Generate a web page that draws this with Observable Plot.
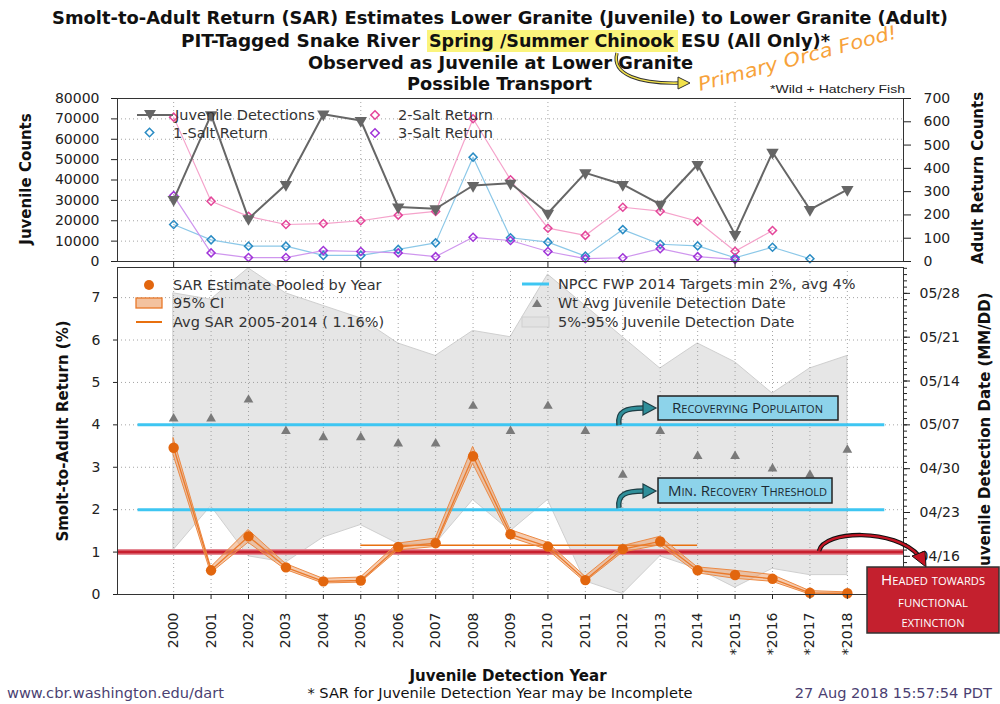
<!DOCTYPE html>
<html><head><meta charset="utf-8">
<script src="https://cdn.jsdelivr.net/npm/d3@7"></script>
<script src="https://cdn.jsdelivr.net/npm/@observablehq/plot@0.6"></script>
<style>
body{margin:0;background:#fff;}
#root{position:relative;width:1000px;height:704px;overflow:hidden;font-family:"DejaVu Sans",sans-serif;}
</style></head><body><div id="root"></div>
<script>
// ---------- data ----------
const years = d3.range(2000, 2019);
const yearLabels = years.map(y => (y >= 2015 ? "*" : "") + y);
const juvenileDetections = [30400, 72000, 21000, 37800, 72300, 69200, 26700, 25900, 37300, 38400, 23700, 43500, 37800, 28000, 47600, 13200, 53600, 25500, 35300];
const salt1Return = [159, 93, 66, 66, 26, 26, 52, 80, 448, 102, 83, 23, 137, 74, 67, 16, 61, 12, null];
const salt2Return = [620, 259, 194, 159, 163, 175, 199, 215, 613, 351, 143, 112, 233, 216, 173, 44, 133, null, null];
const salt3Return = [283, 37, 17, 17, 47, 43, 37, 21, 104, 90, 43, 12, 16, 55, 21, 9, null, null, null];
const sarEstimate = [3.46, 0.57, 1.37, 0.64, 0.31, 0.33, 1.12, 1.21, 3.26, 1.42, 1.13, 0.34, 1.07, 1.25, 0.57, 0.46, 0.37, 0.04, 0.03];
const sarLow  = [3.28, 0.50, 1.22, 0.58, 0.26, 0.28, 1.04, 1.12, 3.08, 1.34, 1.05, 0.29, 0.99, 1.16, 0.50, 0.37, 0.30, 0.00, 0.00];
const sarHigh = [3.68, 0.64, 1.52, 0.72, 0.37, 0.40, 1.20, 1.32, 3.48, 1.52, 1.22, 0.42, 1.14, 1.36, 0.64, 0.56, 0.46, 0.08, 0.05];
const wtAvgDate = ["05/08","05/08","05/11","05/06","05/05","05/05","05/04","05/04","05/10","05/06","05/10","05/06","04/29","05/06","05/02","05/02","04/30","04/29","05/03"];
const date05 = ["04/17","04/24","04/16","04/15","04/19","04/21","04/18","04/18","04/25","04/20","04/25","04/12","04/10","04/16","04/14","04/11","04/14","04/13","04/13"];
const date95 = ["05/28","05/27","06/01","05/28","05/26","05/24","05/20","05/18","05/22","05/21","05/31","05/26","05/21","05/16","05/20","05/17","05/12","05/16","05/18"];
const avgSAR = 1.16, avgFrom = 2005, avgTo = 2014;
const npccTargets = [2, 4];
const extinctionLevel = 1.0;
const dateTicks = ["04/16","04/23","04/30","05/07","05/14","05/21","05/28"];
const countTicks = d3.range(0, 80001, 10000);
const adultTicks = d3.range(0, 701, 100);
const sarTicks = d3.range(0, 8);

// secondary scales mapping
const K = 80000 / 700;
const REF = Date.UTC(2018, 3, 16), Y_REF = 0.9, Y_PER_DAY = 3.1 / 21;
function dateToY(s){const [m,d]=s.split("/").map(Number);return Y_REF + Y_PER_DAY*((Date.UTC(2018,m-1,d)-REF)/864e5);}
function yToDate(y){const days=Math.round((y-Y_REF)/Y_PER_DAY);const dt=new Date(REF+days*864e5);return String(dt.getUTCMonth()+1).padStart(2,"0")+"/"+String(dt.getUTCDate()).padStart(2,"0");}
const minorDays = d3.range(-6, 47).map(k => Y_REF + k*Y_PER_DAY);

const rows = years.map((yr,i)=>({yr, juv:juvenileDetections[i], s1:salt1Return[i], s2:salt2Return[i], s3:salt3Return[i],
  sar:sarEstimate[i], lo:sarLow[i], hi:sarHigh[i], wt:dateToY(wtAvgDate[i]), d05:dateToY(date05[i]), d95:dateToY(date95[i])}));

const root = document.getElementById("root");
const grid = {stroke:"#9a9a9a", strokeOpacity:0.9, strokeDasharray:"1,3"};
const baseStyle = {background:"transparent", overflow:"visible", fontFamily:"DejaVu Sans, sans-serif", fontSize:"14px", color:"#222"};

// ---------- top panel ----------
const saltSeries = [["s1","#2b8cc4","#8cc8e8"],["s2","#e4469a","#f5a3cb"],["s3","#a035d8","#cf96ee"]];
const topPlot = Plot.plot({
  width:1000, height:180, marginTop:10, marginBottom:7, marginLeft:117, marginRight:97,
  x:{domain:[1998.5, 2019.5]}, y:{domain:[0, 80000]},
  style: baseStyle,
  marks:[
    Plot.gridY(countTicks.slice(1), grid),
    Plot.gridX([2000,2005,2010,2015], grid),
    ...saltSeries.map(([k,c,lc]) => Plot.line(rows.filter(d=>d[k]!=null), {x:"yr", y:d=>d[k]*K, stroke:lc, strokeWidth:1.2})),
    ...saltSeries.map(([k,c]) => Plot.dot(rows.filter(d=>d[k]!=null), {x:"yr", y:d=>d[k]*K, symbol:"square", rotate:45, r:3.2, stroke:c, strokeWidth:1.5, fill:"white", fillOpacity:0})),
    Plot.line(rows, {x:"yr", y:"juv", stroke:"#666", strokeWidth:2}),
    Plot.dot(rows, {x:"yr", y:"juv", symbol:"triangle", rotate:180, r:4.6, fill:"#666", stroke:"none"}),
    Plot.frame({stroke:"#333"}),
    Plot.axisY(countTicks, {anchor:"left", tickSize:6, tickPadding:12, label:null, tickFormat:d=>String(d)}),
    Plot.axisY(adultTicks.map(v=>v*K), {anchor:"right", tickSize:7, tickPadding:13, label:null, tickFormat:d=>String(Math.round(d/K))}),
    Plot.axisX([2000,2005,2010,2015], {anchor:"bottom", tickSize:6, tickFormat:()=>"", label:null})
  ]
});
topPlot.style.position="absolute"; topPlot.style.left="0px"; topPlot.style.top="88px";
root.appendChild(topPlot);

// ---------- bottom panel ----------
const botPlot = Plot.plot({
  width:1000, height:420, marginTop:5, marginBottom:88, marginLeft:117, marginRight:97,
  x:{domain:[1998.5, 2019.5]}, y:{domain:[0, 7.71]},
  style: baseStyle,
  marks:[
    Plot.areaY(rows, {x:"yr", y1:"d05", y2:"d95", fill:"#e6e6e6", stroke:"#cfcfcf", strokeWidth:1}),
    Plot.gridY(sarTicks.slice(1), grid),
    Plot.gridX(years, grid),
    Plot.ruleY(npccTargets, {x1:1999.05, x2:2019, stroke:"#3ec6f2", strokeWidth:3}),
    Plot.ruleY([extinctionLevel], {stroke:"#e58a95", strokeWidth:6}),
    Plot.ruleY([extinctionLevel], {stroke:"#c8202f", strokeWidth:3}),
    Plot.ruleY([avgSAR], {x1:avgFrom, x2:avgTo, stroke:"#e8700f", strokeWidth:1.6}),
    Plot.areaY(rows, {x:"yr", y1:"lo", y2:"hi", fill:"#eb9a62", fillOpacity:0.5, stroke:"#ec8a45", strokeWidth:1}),
    Plot.line(rows, {x:"yr", y:"sar", stroke:"#ea7a2c", strokeWidth:1.3}),
    Plot.dot(rows, {x:"yr", y:"sar", r:5.2, fill:"#e2660e", stroke:"none"}),
    Plot.dot(rows, {x:"yr", y:"wt", symbol:"triangle", r:3.6, fill:"#7a7a7a", stroke:"none"}),
    Plot.frame({stroke:"#333"}),
    Plot.axisY(sarTicks, {anchor:"left", tickSize:4, tickPadding:13, label:null}),
    Plot.axisY(dateTicks.map(dateToY), {anchor:"right", tickSize:6, tickPadding:10, label:null, tickFormat:d=>yToDate(d)}),
    Plot.axisY(minorDays, {anchor:"right", tickSize:3, label:null, tickFormat:()=>""}),
    Plot.axisX(years, {anchor:"bottom", tickSize:5, tickPadding:13, tickRotate:-90, label:null, tickFormat:d=>yearLabels[years.indexOf(d)]})
  ]
});
botPlot.style.position="absolute"; botPlot.style.left="0px"; botPlot.style.top="262px";
root.appendChild(botPlot);

// ---------- titles, legends, annotations ----------
const titleFont = "font-family=\"'Liberation Sans Narrow','DejaVu Sans Condensed','Liberation Sans',sans-serif\" font-weight=\"bold\" font-size=\"17\" fill=\"#111\" lengthAdjust=\"spacingAndGlyphs\"";
const scFont = "font-family=\"'Open Sans','DejaVu Sans',sans-serif\" font-variant=\"small-caps\" lengthAdjust=\"spacingAndGlyphs\"";
const ov = `
<svg xmlns="http://www.w3.org/2000/svg" width="1000" height="704" style="position:absolute;left:0;top:0;overflow:visible" font-family="DejaVu Sans, sans-serif">
 <rect x="427" y="30" width="251" height="22" fill="#fbf47c"/>
 <text x="52" y="24" textLength="896" ${titleFont}>Smolt-to-Adult Return (SAR) Estimates Lower Granite (Juvenile) to Lower Granite (Adult)</text>
 <text x="181" y="47" textLength="239" ${titleFont}>PIT-Tagged Snake River</text>
 <text x="429" y="47" textLength="245" ${titleFont}>Spring /Summer Chinook</text>
 <text x="681" y="47" textLength="149" ${titleFont}>ESU (All Only)*</text>
 <text x="308" y="68.5" textLength="385" ${titleFont}>Observed as Juvenile at Lower Granite</text>
 <text x="407" y="90" textLength="185" ${titleFont}>Possible Transport</text>
 <path d="M617,53 C611,75 640,84 680,83" fill="none" stroke="#333" stroke-width="3.4"/>
 <path d="M617,53 C611,75 640,84 680,83" fill="none" stroke="#f2e24a" stroke-width="1.6"/>
 <polygon points="678,77 690,83 678,89" fill="#f2e24a" stroke="#333" stroke-width="1"/>
 <text transform="translate(700,91) rotate(-15)" font-family="'DejaVu Sans',sans-serif" font-style="italic" font-size="19" fill="#f7a23a" textLength="205" lengthAdjust="spacingAndGlyphs">Primary Orca Food!</text>
 <text x="770" y="93" font-family="'Liberation Sans Narrow','Liberation Sans',sans-serif" font-size="11" fill="#222" textLength="135" lengthAdjust="spacingAndGlyphs">*Wild + Hatchery Fish</text>

 <g font-weight="bold" font-size="15" fill="#111" text-anchor="middle">
  <text transform="translate(31,179) rotate(-90)">Juvenile Counts</text>
  <text transform="translate(983,178) rotate(-90)">Adult Return Counts</text>
  <text transform="translate(68,431) rotate(-90)">Smolt-to-Adult Return (%)</text>
  <text transform="translate(990,432) rotate(-90)">Juvenile Detection Date (MM/DD)</text>
  <text x="508" y="681">Juvenile Detection Year</text>
 </g>

 <g font-size="14.5" fill="#333">
  <line x1="137" x2="173" y1="115" y2="115" stroke="#666" stroke-width="2"/>
  <polygon points="144,110 156,110 150,120" fill="#666"/>
  <text x="175" y="120">Juvenile Detections</text>
  <rect x="146.5" y="129.5" width="6" height="6" transform="rotate(45 149.5 132.5)" fill="none" stroke="#2b8cc4" stroke-width="1.5"/>
  <text x="173" y="138">1-Salt Return</text>
  <rect x="372" y="112" width="6" height="6" transform="rotate(45 375 115)" fill="none" stroke="#e4469a" stroke-width="1.5"/>
  <text x="398" y="120">2-Salt Return</text>
  <rect x="372" y="130" width="6" height="6" transform="rotate(45 375 133)" fill="none" stroke="#a035d8" stroke-width="1.5"/>
  <text x="398" y="138">3-Salt Return</text>

  <circle cx="149" cy="285" r="5" fill="#e2660e"/>
  <text x="173" y="290">SAR Estimate Pooled by Year</text>
  <rect x="136" y="298" width="26" height="10" fill="#f3c29f" stroke="#e8782a" stroke-width="1.3"/>
  <text x="173" y="308">95% CI</text>
  <line x1="136" x2="162" y1="322" y2="322" stroke="#e8700f" stroke-width="2"/>
  <text x="173" y="327">Avg SAR 2005-2014 ( 1.16%)</text>
  <line x1="522" x2="549" y1="284" y2="284" stroke="#3ec6f2" stroke-width="3"/>
  <text x="558" y="289">NPCC FWP 2014 Targets min 2%, avg 4%</text>
  <polygon points="532,307 542,307 537,299" fill="#7a7a7a"/>
  <text x="558" y="308">Wt Avg Juvenile Detection Date</text>
  <rect x="522" y="317" width="27" height="10" fill="#e2e2e2" stroke="#cfcfcf"/>
  <text x="558" y="327">5%-95% Juvenile Detection Date</text>
 </g>

 <rect x="658" y="396" width="180" height="24" fill="#8dd3ea" stroke="#222" stroke-width="1.5"/>
 <text x="672" y="413" font-size="15" fill="#1c2a33" textLength="151" ${scFont}>Recoverying Populaiton</text>
 <rect x="658" y="478" width="174" height="25" fill="#8dd3ea" stroke="#222" stroke-width="1.5"/>
 <text x="668" y="496" font-size="15" fill="#1c2a33" textLength="159" ${scFont}>Min. Recovery Threshold</text>
 <g>
  <path d="M619,425 C617,411 626,408 644,408" fill="none" stroke="#1d3d44" stroke-width="5.5"/>
  <path d="M619,425 C617,411 626,408 644,408" fill="none" stroke="#2f8f9a" stroke-width="3"/>
  <polygon points="643,401 656,408 643,415" fill="#2f8f9a" stroke="#1d3d44" stroke-width="1.2"/>
  <path d="M619,508 C617,494 626,491 644,491" fill="none" stroke="#1d3d44" stroke-width="5.5"/>
  <path d="M619,508 C617,494 626,491 644,491" fill="none" stroke="#2f8f9a" stroke-width="3"/>
  <polygon points="643,484 656,491 643,498" fill="#2f8f9a" stroke="#1d3d44" stroke-width="1.2"/>
 </g>
 <path d="M819,551 C824,530 895,528 919,556" fill="none" stroke="#111" stroke-width="4.5"/>
 <path d="M819,551 C824,530 895,528 919,556" fill="none" stroke="#c41424" stroke-width="2.4"/>
 <polygon points="912,556 926,567 925,551" fill="#c41424" stroke="#111" stroke-width="1"/>
 <rect x="867" y="567" width="132" height="66" fill="#c4202e" stroke="#333" stroke-width="1.5"/>
 <g fill="#fff" text-anchor="middle" font-size="15">
  <text x="933" y="585" textLength="104" ${scFont}>Headed towards</text>
  <text x="933" y="607" textLength="70" ${scFont}>functional</text>
  <text x="933" y="627" textLength="63" ${scFont}>extinction</text>
 </g>

 <g font-size="14.6">
  <text x="7" y="698" fill="#4b3f72">www.cbr.washington.edu/dart</text>
  <text x="500" y="698" fill="#111" text-anchor="middle">* SAR for Juvenile Detection Year may be Incomplete</text>
  <text x="992" y="698" fill="#4b3f72" text-anchor="end">27 Aug 2018 15:57:54 PDT</text>
 </g>
</svg>`;
root.insertAdjacentHTML("beforeend", ov);
</script>
</body></html>
